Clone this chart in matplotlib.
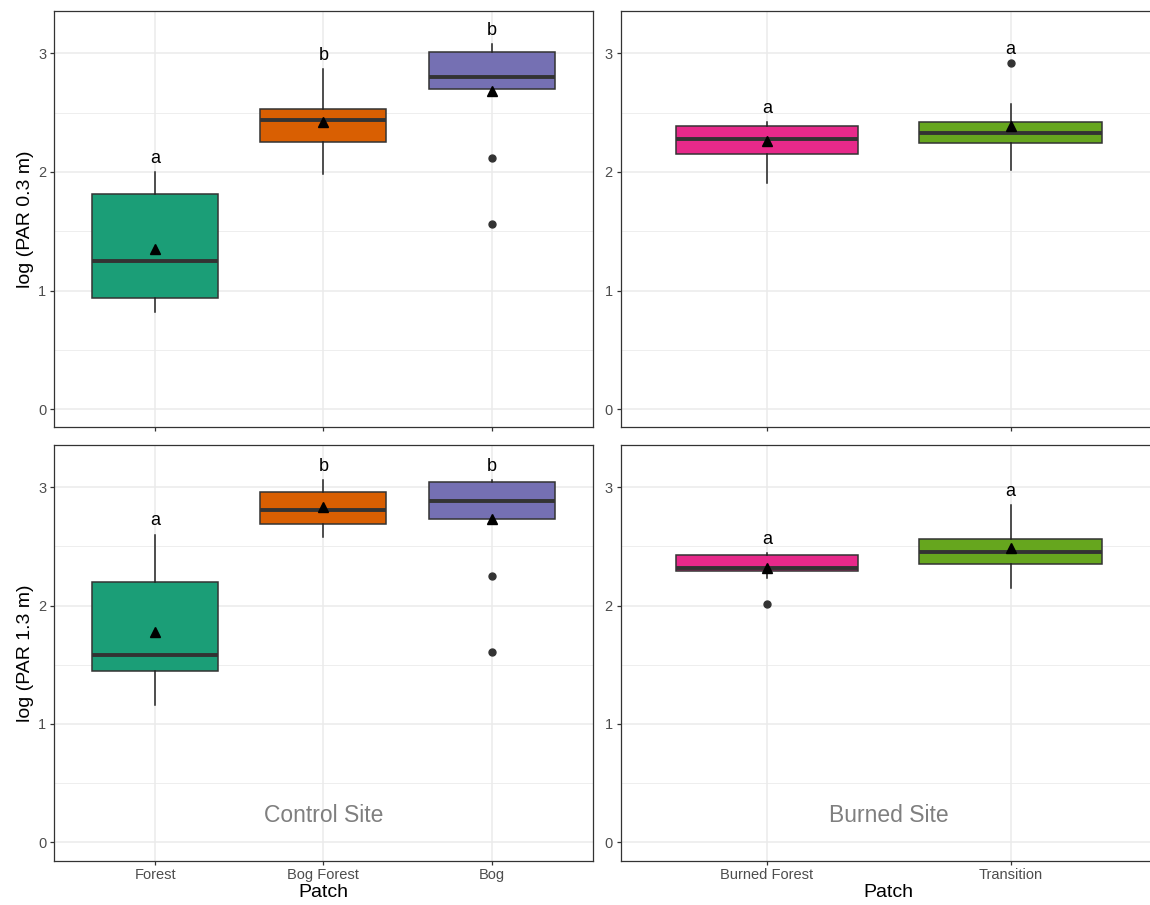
import matplotlib.pyplot as plt
from matplotlib.ticker import MultipleLocator

plt.rcParams['font.family'] = ['Liberation Sans', 'DejaVu Sans']

control_patches = ["Forest", "Bog Forest", "Bog"]
burned_patches = ["Burned Forest", "Transition"]
control_colors = ["#1B9E77", "#D95F02", "#7570B3"]
burned_colors = ["#E7298A", "#66A61E"]

# log (PAR 0.3 m), control site
c03_q1 = [0.94, 2.25, 2.70]
c03_med = [1.25, 2.44, 2.80]
c03_q3 = [1.81, 2.53, 3.01]
c03_lo = [0.82, 1.98, 2.70]
c03_hi = [2.00, 2.87, 3.08]
c03_mean = [1.35, 2.42, 2.68]
c03_out = [[], [], [2.12, 1.56]]
c03_letters = ["a", "b", "b"]

# log (PAR 0.3 m), burned site
b03_q1 = [2.15, 2.24]
b03_med = [2.28, 2.33]
b03_q3 = [2.39, 2.42]
b03_lo = [1.91, 2.02]
b03_hi = [2.42, 2.57]
b03_mean = [2.26, 2.39]
b03_out = [[], [2.92]]
b03_letters = ["a", "a"]

# log (PAR 1.3 m), control site
c13_q1 = [1.45, 2.69, 2.73]
c13_med = [1.58, 2.81, 2.88]
c13_q3 = [2.20, 2.96, 3.04]
c13_lo = [1.16, 2.58, 2.73]
c13_hi = [2.60, 3.06, 3.06]
c13_mean = [1.78, 2.83, 2.73]
c13_out = [[], [], [2.25, 1.61]]
c13_letters = ["a", "b", "b"]

# log (PAR 1.3 m), burned site
b13_q1 = [2.29, 2.35]
b13_med = [2.32, 2.45]
b13_q3 = [2.43, 2.56]
b13_lo = [2.23, 2.15]
b13_hi = [2.44, 2.85]
b13_mean = [2.32, 2.49]
b13_out = [[2.01], []]
b13_letters = ["a", "a"]

ylim = (-0.153, 3.356)


def make_stats(q1, med, q3, lo, hi, mean, out):
    stats = []
    for i in range(len(q1)):
        stats.append({"q1": q1[i], "med": med[i], "q3": q3[i],
                      "whislo": lo[i], "whishi": hi[i],
                      "mean": mean[i], "fliers": out[i]})
    return stats


def draw_panel(ax, stats, colors, labels, letters, show_xlabels):
    n = len(stats)
    pos = list(range(1, n + 1))
    bp = ax.bxp(stats, positions=pos, widths=0.75, patch_artist=True,
                showmeans=True, showcaps=False,
                boxprops=dict(edgecolor="#333333", linewidth=1.1),
                medianprops=dict(color="#333333", linewidth=2.8),
                whiskerprops=dict(color="#222222", linewidth=1.1),
                flierprops=dict(marker="o", markerfacecolor="#333333",
                                markeredgecolor="#333333", markersize=5),
                meanprops=dict(marker="^", markerfacecolor="black",
                               markeredgecolor="black", markersize=7))
    for patch, c in zip(bp["boxes"], colors):
        patch.set_facecolor(c)
    for p, s, let in zip(pos, stats, letters):
        top = max([s["whishi"]] + list(s["fliers"]))
        ax.text(p, top + 0.115, let, ha="center", va="center", fontsize=13, color="black")

    ax.set_xlim(0.4, n + 0.6)
    ax.set_ylim(*ylim)
    ax.set_xticks(pos)
    ax.set_xticklabels(labels)
    ax.yaxis.set_major_locator(MultipleLocator(1))
    ax.yaxis.set_minor_locator(MultipleLocator(0.5))
    ax.grid(which="major", color="#EBEBEB", linewidth=1.1)
    ax.grid(which="minor", axis="y", color="#EBEBEB", linewidth=0.6)
    ax.set_axisbelow(True)
    ax.tick_params(which="major", length=3.2, width=0.9, color="#333333",
                   labelcolor="#4D4D4D", labelsize=10.5, pad=2.5)
    ax.tick_params(which="minor", length=0)
    ax.tick_params(axis="x", labelbottom=show_xlabels)
    for sp in ax.spines.values():
        sp.set_color("#333333")
        sp.set_linewidth(0.9)


W, H = 1150, 905
fig = plt.figure(figsize=(W / 100, H / 100), dpi=100)


def add_axes(x0, y0, x1, y1):
    return fig.add_axes([x0 / W, 1 - y1 / H, (x1 - x0) / W, (y1 - y0) / H])


ax_tl = add_axes(54.3, 11, 592.5, 427.3)
ax_tr = add_axes(620.7, 11, 1157, 427.3)
ax_bl = add_axes(54.3, 445, 592.5, 860.5)
ax_br = add_axes(620.7, 445, 1157, 860.5)

draw_panel(ax_tl, make_stats(c03_q1, c03_med, c03_q3, c03_lo, c03_hi, c03_mean, c03_out),
           control_colors, control_patches, c03_letters, False)
draw_panel(ax_tr, make_stats(b03_q1, b03_med, b03_q3, b03_lo, b03_hi, b03_mean, b03_out),
           burned_colors, burned_patches, b03_letters, False)
draw_panel(ax_bl, make_stats(c13_q1, c13_med, c13_q3, c13_lo, c13_hi, c13_mean, c13_out),
           control_colors, control_patches, c13_letters, True)
draw_panel(ax_br, make_stats(b13_q1, b13_med, b13_q3, b13_lo, b13_hi, b13_mean, b13_out),
           burned_colors, burned_patches, b13_letters, True)

ax_tl.set_ylabel("log (PAR 0.3 m)", fontsize=14, labelpad=3)
ax_bl.set_ylabel("log (PAR 1.3 m)", fontsize=14, labelpad=3)
ax_bl.set_xlabel("Patch", fontsize=14, labelpad=1)
ax_br.set_xlabel("Patch", fontsize=14, labelpad=1)

ax_bl.text(2, 0.23, "Control Site", ha="center", va="center", fontsize=16.5, color="#7F7F7F")
ax_br.text(1.5, 0.23, "Burned Site", ha="center", va="center", fontsize=16.5, color="#7F7F7F")

fig.savefig("out.png", dpi=100)
